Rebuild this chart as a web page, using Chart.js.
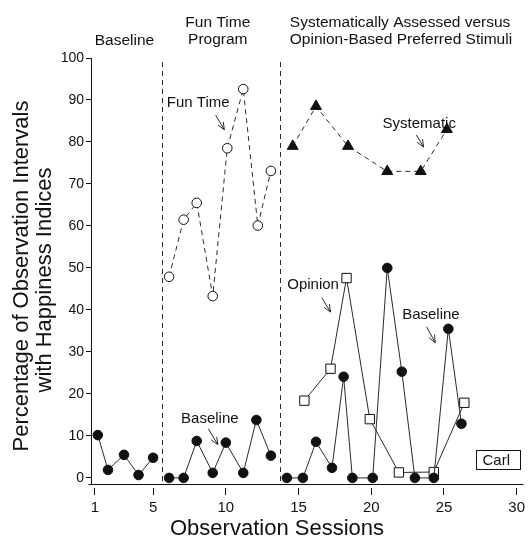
<!DOCTYPE html>
<html>
<head>
<meta charset="utf-8">
<script src="https://cdn.jsdelivr.net/npm/chart.js@4.4.0/dist/chart.umd.min.js"></script>
<style>
  html, body { margin: 0; padding: 0; background: #fff; }
</style>
</head>
<body>
<canvas id="chart" width="531" height="542"></canvas>
<script>
// ---- data (session number, percentage) ----
const baselineSessions1 = [1.2, 1.9, 3, 4, 5];
const baselineValues1 = [10.2, 1.9, 5.5, 0.7, 4.8];

const funTimeSessions = [6.1, 7.1, 8, 9.1, 10.1, 11.2, 12.2, 13.1];
const funTimeValues = [47.9, 61.5, 65.5, 43.3, 78.5, 92.6, 60.1, 73.1];

const baselineSessions2 = [6.1, 7.1, 8, 9.1, 10, 11.2, 12.1, 13.1];
const baselineValues2 = [0, 0, 8.8, 1.2, 8.4, 1.2, 13.8, 5.3];

const systematicSessions = [14.6, 16.2, 18.4, 21.1, 23.4, 25.2];
const systematicValues = [79, 88.5, 79, 73, 73, 83];

const opinionSessions = [15.4, 17.2, 18.3, 19.9, 21.9, 24.3, 26.4];
const opinionValues = [18.4, 26, 47.6, 14, 1.3, 1.4, 17.9];

const baselineSessions3 = [14.2, 15.3, 16.2, 17.3, 18.1, 18.7, 20.1, 21.1, 22.1, 23, 24.3, 25.3, 26.2];
const baselineValues3 = [0, 0, 8.6, 2.4, 24.1, 0, 0, 50, 25.3, 0, 0, 35.5, 12.9];

const phaseChanges = [5.6, 13.75];
const xTicks = [1, 5, 10, 15, 20, 25, 30];
const yTicks = [0, 10, 20, 30, 40, 50, 60, 70, 80, 90, 100];

const FONT = '"Liberation Sans", Arial, Helvetica, sans-serif';
const INK = '#111';
const AXIS_Y = 484.5; // where the drawn x axis line sits

function pts(xs, ys) {
  return xs.map((x, i) => ({ x: x, y: ys[i] }));
}

function series(xs, ys, style, filled, dashed) {
  return {
    data: pts(xs, ys),
    borderColor: '#2a2a2a',
    borderWidth: 1,
    borderDash: dashed ? [5, 4] : [],
    tension: 0,
    fill: false,
    pointStyle: style,
    pointRadius: style === 'rect' ? 6.6 : (style === 'triangle' ? 6.3 : 4.8),
    pointBorderWidth: 1,
    pointBorderColor: INK,
    pointBackgroundColor: filled ? INK : '#fff',
    pointHoverRadius: 0
  };
}

// labels / arrows inside the plot, in data units
const notes = [
  { text: 'Fun Time', x: 8.1, y: 89.4, from: [9.3, 86.4], to: [9.9, 82.9] },
  { text: 'Baseline', x: 8.9, y: 14.0, from: [8.8, 11.7], to: [9.45, 7.9] },
  { text: 'Opinion', x: 16.0, y: 46.0, from: [16.6, 42.9], to: [17.2, 39.5] },
  { text: 'Baseline', x: 24.1, y: 38.8, from: [23.8, 36.0], to: [24.4, 32.2] },
  { text: 'Systematic', x: 23.3, y: 84.3, from: [23.1, 81.7], to: [23.6, 78.8] }
];

function arrow(ctx, x1, y1, x2, y2) {
  const a = Math.atan2(y2 - y1, x2 - x1);
  const h = 8;
  ctx.beginPath();
  ctx.moveTo(x1, y1);
  ctx.lineTo(x2, y2);
  ctx.moveTo(x2 - h * Math.cos(a - 0.4), y2 - h * Math.sin(a - 0.4));
  ctx.lineTo(x2, y2);
  ctx.lineTo(x2 - h * Math.cos(a + 0.4), y2 - h * Math.sin(a + 0.4));
  ctx.stroke();
}

const decorations = {
  id: 'decorations',
  beforeDatasetsDraw(chart) {
    const { ctx, chartArea } = chart;
    const x = chart.scales.x;
    ctx.save();
    ctx.strokeStyle = '#2a2a2a';
    ctx.lineWidth = 1;
    ctx.setLineDash([5, 4]);
    phaseChanges.forEach(p => {
      const px = Math.round(x.getPixelForValue(p)) + 0.5;
      ctx.beginPath();
      ctx.moveTo(px, chartArea.top + 4);
      ctx.lineTo(px, AXIS_Y - 2);
      ctx.stroke();
    });
    ctx.setLineDash([]);
    ctx.strokeStyle = INK;
    // axis lines (L shape)
    const left = Math.round(chartArea.left) - 0.5;
    ctx.beginPath();
    ctx.moveTo(left, chartArea.top);
    ctx.lineTo(left, AXIS_Y);
    ctx.moveTo(left - 3, AXIS_Y);
    ctx.lineTo(chartArea.right, AXIS_Y);
    ctx.stroke();
    ctx.restore();
  },
  afterDraw(chart) {
    const { ctx } = chart;
    const x = chart.scales.x, y = chart.scales.y;
    ctx.save();
    ctx.fillStyle = INK;
    ctx.strokeStyle = '#2a2a2a';
    ctx.lineWidth = 1;

    // phase headings
    ctx.font = '15.5px ' + FONT;
    ctx.textBaseline = 'middle';
    ctx.textAlign = 'center';
    ctx.fillText('Baseline', x.getPixelForValue(3.03), 41);
    ctx.fillText('Fun Time', x.getPixelForValue(9.45), 23);
    ctx.fillText('Program', x.getPixelForValue(9.45), 40);
    ctx.textAlign = 'left';
    ctx.fillText('Systematically Assessed versus', x.getPixelForValue(14.4), 23);
    ctx.fillText('Opinion-Based Preferred Stimuli', x.getPixelForValue(14.4), 40);

    // notes with arrows
    ctx.font = '15px ' + FONT;
    ctx.textAlign = 'center';
    notes.forEach(n => {
      ctx.fillText(n.text, x.getPixelForValue(n.x), y.getPixelForValue(n.y));
      arrow(ctx,
        x.getPixelForValue(n.from[0]), y.getPixelForValue(n.from[1]),
        x.getPixelForValue(n.to[0]), y.getPixelForValue(n.to[1]));
    });

    // participant box
    const bx = Math.round(x.getPixelForValue(27.2)) + 0.5;
    const bx2 = Math.round(x.getPixelForValue(30.2)) + 0.5;
    const by = Math.round(y.getPixelForValue(6.7)) + 0.5;
    const by2 = Math.round(y.getPixelForValue(2.1)) + 0.5;
    ctx.strokeStyle = INK;
    ctx.strokeRect(bx, by, bx2 - bx, by2 - by);
    ctx.textAlign = 'left';
    ctx.fillText('Carl', bx + 6, (by + by2) / 2 + 1);

    // axis titles
    ctx.font = '22px ' + FONT;
    ctx.textAlign = 'center';
    ctx.fillText('Observation Sessions', 277, 529);
    ctx.save();
    ctx.translate(22, 276);
    ctx.rotate(-Math.PI / 2);
    ctx.fillText('Percentage of Observation Intervals', 0, 0);
    ctx.restore();
    ctx.save();
    ctx.translate(45, 280);
    ctx.rotate(-Math.PI / 2);
    ctx.fillText('with Happiness Indices', 0, 0);
    ctx.restore();
    ctx.restore();
  }
};

new Chart(document.getElementById('chart'), {
  type: 'line',
  data: {
    datasets: [
      series(baselineSessions3, baselineValues3, 'circle', true, false),
      series(opinionSessions, opinionValues, 'rect', false, false),
      series(systematicSessions, systematicValues, 'triangle', true, true),
      series(baselineSessions2, baselineValues2, 'circle', true, false),
      series(funTimeSessions, funTimeValues, 'circle', false, true),
      series(baselineSessions1, baselineValues1, 'circle', true, false)
    ]
  },
  options: {
    responsive: false,
    animation: false,
    events: [],
    layout: { padding: { top: 58, right: 0, bottom: 0, left: 0 } },
    plugins: { legend: { display: false }, tooltip: { enabled: false } },
    scales: {
      x: {
        type: 'linear',
        min: 0.8,
        max: 30.46,
        afterFit: s => { s.height = 54; },
        afterBuildTicks: s => { s.ticks = xTicks.map(v => ({ value: v })); },
        grid: { drawOnChartArea: false, drawTicks: true, tickLength: 7, color: INK },
        border: { display: false },
        ticks: { color: INK, padding: 4, maxRotation: 0, font: { family: FONT, size: 15 } }
      },
      y: {
        type: 'linear',
        min: -2.4,
        max: 100,
        afterFit: s => { s.width = 92; },
        afterBuildTicks: s => { s.ticks = yTicks.map(v => ({ value: v })); },
        grid: { drawOnChartArea: false, drawTicks: true, tickLength: 6, color: INK },
        border: { display: false },
        ticks: { color: INK, padding: 2, font: { family: FONT, size: 14 } }
      }
    }
  },
  plugins: [decorations]
});
</script>
</body>
</html>
